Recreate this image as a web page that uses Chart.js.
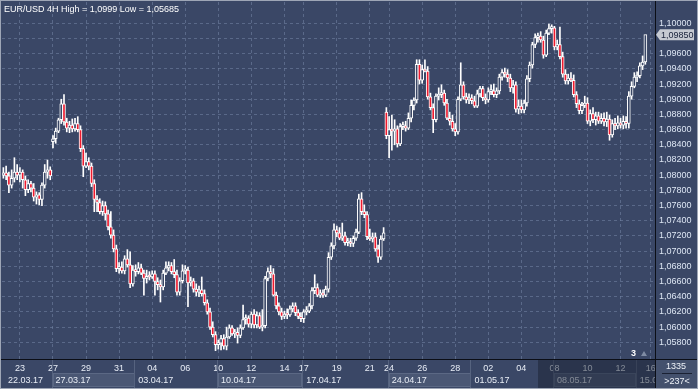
<!DOCTYPE html>
<html><head><meta charset="utf-8">
<script src="https://cdn.jsdelivr.net/npm/chart.js@4.4.1/dist/chart.umd.min.js"></script>
<style>html,body{margin:0;padding:0;background:#3a4766;overflow:hidden}canvas{display:block}</style>
</head><body>
<canvas id="c" width="698" height="389"></canvas>
<script>
const title = 'EUR/USD 4H High = 1,0999 Low = 1,05685';

const opens = [
1.0800,1.0803,1.0799,1.0787,1.0796,1.0804,1.0800,1.0804,1.0794,1.0781,1.0789,1.0783,1.0771,1.0774,1.0768,1.0787,1.0804,1.0807,
1.0844,1.0848,1.0858,1.0873,1.0894,1.0870,1.0862,1.0866,1.0861,1.0868,1.0860,1.0835,1.0812,1.0818,1.0812,1.0789,1.0768,1.0764,1.0752,1.0760,1.0749,1.0732,1.0721,1.0703,
1.0677,1.0679,1.0674,1.0690,1.0682,1.0657,1.0675,1.0673,1.0678,1.0671,1.0664,1.0667,1.0666,1.0670,1.0660,1.0656,1.0653,1.0671,1.0678,1.0681,1.0673,1.0669,1.0646,1.0661,1.0674,1.0675,1.0658,1.0661,1.0650,1.0646,1.0649,1.0644,1.0632,1.0620,1.0600,1.0590,
1.0577,1.0579,1.0585,1.0575,1.0587,1.0599,1.0591,1.0593,1.0589,1.0599,1.0610,1.0612,1.0604,1.0617,1.0603,1.0615,1.0600,1.0602,1.0664,1.0673,1.0670,1.0642,1.0628,1.0620,1.0614,1.0617,1.0616,1.0624,1.0628,1.0619,1.0614,1.0611,1.0620,1.0621,1.0628,1.0648,1.0652,1.0642,1.0645,1.0642,
1.0650,1.0692,1.0707,1.0728,1.0724,1.0717,1.0720,1.0711,1.0712,1.0710,1.0717,1.0725,1.0769,1.0752,1.0748,1.0719,1.0716,1.0719,1.0703,1.0692,1.0716,
1.0883,1.0852,1.0860,1.0858,1.0861,1.0841,1.0864,1.0865,1.0862,1.0875,1.0892,1.0899,1.0946,1.0925,1.0939,1.0937,1.0903,1.0889,1.0873,1.0904,1.0906,1.0908,1.0895,1.0875,1.0871,1.0861,1.0857,1.0900,1.0919,1.0903,1.0899,1.0902,1.0898,1.0891,1.0907,1.0914,1.0902,1.0899,
1.0910,1.0911,1.0906,1.0911,1.0929,1.0935,1.0933,1.0928,1.0915,1.0919,1.0887,1.0891,1.0886,1.0895,1.0927,1.0945,1.0972,1.0981,1.0983,1.0978,1.0958,1.0987,1.0993,1.0994,1.0969,1.0972,1.0956,1.0933,1.0924,1.0928,1.0925,1.0906,1.0894,1.0885,1.0892,1.0895,1.0871,1.0881,1.0873,1.0878,1.0871,1.0875,1.0870,1.0874,1.0853,1.0868,1.0865,1.0869,1.0866,1.0871,1.0868,1.0904,1.0917,1.0929,1.0931,1.0944,1.0949
];
const highs = [
1.0810,1.0812,1.0804,1.0807,1.0823,1.0814,1.0810,1.0807,1.0799,1.0794,1.0792,1.0789,1.0778,1.0777,1.0790,1.0814,1.0820,1.0811,
1.0852,1.0862,1.0875,1.0900,1.0906,1.0875,1.0871,1.0874,1.0875,1.0877,1.0865,1.0839,1.0829,1.0823,1.0816,1.0794,1.0773,1.0769,1.0766,1.0765,1.0754,1.0752,1.0728,1.0708,
1.0685,1.0686,1.0694,1.0702,1.0699,1.0681,1.0682,1.0685,1.0683,1.0675,1.0675,1.0673,1.0674,1.0674,1.0665,1.0662,1.0675,1.0686,1.0686,1.0685,1.0689,1.0675,1.0665,1.0682,1.0681,1.0679,1.0666,1.0664,1.0657,1.0654,1.0666,1.0649,1.0636,1.0625,1.0607,1.0594,
1.0583,1.0589,1.0590,1.0600,1.0603,1.0602,1.0597,1.0599,1.0603,1.0629,1.0616,1.0615,1.0620,1.0623,1.0620,1.0619,1.0623,1.0667,1.0678,1.0681,1.0677,1.0646,1.0632,1.0625,1.0621,1.0624,1.0628,1.0632,1.0632,1.0623,1.0619,1.0623,1.0627,1.0631,1.0652,1.0669,1.0657,1.0649,1.0649,1.0654,
1.0698,1.0711,1.0736,1.0733,1.0731,1.0737,1.0725,1.0717,1.0717,1.0720,1.0729,1.0775,1.0777,1.0761,1.0752,1.0729,1.0724,1.0724,1.0708,1.0720,1.0731,
1.0889,1.0877,1.0879,1.0873,1.0865,1.0868,1.0870,1.0871,1.0882,1.0899,1.0902,1.0952,1.0952,1.0945,1.0952,1.0943,1.0908,1.0894,1.0907,1.0915,1.0919,1.0912,1.0900,1.0883,1.0879,1.0868,1.0903,1.0948,1.0923,1.0908,1.0907,1.0906,1.0904,1.0912,1.0917,1.0917,1.0907,1.0915,
1.0919,1.0920,1.0915,1.0933,1.0939,1.0941,1.0939,1.0933,1.0925,1.0923,1.0899,1.0899,1.0899,1.0931,1.0949,1.0975,1.0986,1.0987,1.0989,1.0983,1.0991,1.0999,1.0998,1.0996,1.0978,1.0995,1.0962,1.0939,1.0933,1.0935,1.0932,1.0910,1.0899,1.0896,1.0904,1.0902,1.0886,1.0889,1.0883,1.0883,1.0881,1.0882,1.0883,1.0879,1.0873,1.0875,1.0878,1.0875,1.0878,1.0877,1.0910,1.0923,1.0935,1.0936,1.0948,1.0957,1.0983
];
const lows = [
1.0796,1.0794,1.0777,1.0783,1.0791,1.0794,1.0791,1.0783,1.0773,1.0777,1.0778,1.0766,1.0762,1.0761,1.0760,1.0783,1.0796,1.0794,
1.0836,1.0842,1.0856,1.0868,1.0866,1.0857,1.0856,1.0857,1.0858,1.0857,1.0831,1.0798,1.0810,1.0807,1.0785,1.0752,1.0752,1.0749,1.0747,1.0741,1.0728,1.0717,1.0699,1.0673,
1.0671,1.0671,1.0670,1.0679,1.0652,1.0654,1.0667,1.0670,1.0669,1.0642,1.0658,1.0662,1.0664,1.0642,1.0649,1.0633,1.0649,1.0669,1.0674,1.0670,1.0665,1.0642,1.0642,1.0658,1.0670,1.0627,1.0654,1.0646,1.0641,1.0640,1.0641,1.0629,1.0617,1.0597,1.0587,1.0569,
1.0571,1.0570,1.0571,1.0570,1.0585,1.0589,1.0586,1.0579,1.0586,1.0597,1.0604,1.0600,1.0599,1.0599,1.0599,1.0598,1.0595,1.0599,1.0661,1.0665,1.0641,1.0624,1.0616,1.0610,1.0611,1.0611,1.0614,1.0620,1.0615,1.0611,1.0607,1.0606,1.0616,1.0619,1.0624,1.0644,1.0640,1.0639,1.0639,1.0640,
1.0646,1.0689,1.0703,1.0719,1.0715,1.0714,1.0708,1.0707,1.0706,1.0706,1.0714,1.0723,1.0748,1.0744,1.0715,1.0714,1.0712,1.0700,1.0685,1.0689,1.0714,
1.0848,1.0823,1.0833,1.0840,1.0837,1.0839,1.0860,1.0858,1.0860,1.0870,1.0886,1.0895,1.0920,1.0921,1.0936,1.0900,1.0886,1.0856,1.0870,1.0899,1.0902,1.0892,1.0873,1.0866,1.0858,1.0852,1.0854,1.0898,1.0900,1.0895,1.0894,1.0894,1.0889,1.0889,1.0903,1.0898,1.0894,1.0896,
1.0906,1.0903,1.0902,1.0907,1.0925,1.0929,1.0923,1.0910,1.0908,1.0883,1.0881,1.0882,1.0882,1.0891,1.0923,1.0941,1.0968,1.0975,1.0975,1.0954,1.0956,1.0985,1.0987,1.0965,1.0965,1.0953,1.0929,1.0920,1.0920,1.0923,1.0903,1.0889,1.0881,1.0881,1.0889,1.0868,1.0865,1.0869,1.0866,1.0868,1.0868,1.0865,1.0864,1.0846,1.0850,1.0860,1.0861,1.0862,1.0861,1.0862,1.0862,1.0900,1.0915,1.0923,1.0928,1.0939,1.0946
];
const closes = [
1.0803,1.0799,1.0787,1.0796,1.0804,1.0800,1.0804,1.0794,1.0781,1.0789,1.0783,1.0771,1.0774,1.0768,1.0787,1.0804,1.0807,1.0799,
1.0848,1.0858,1.0873,1.0894,1.0870,1.0862,1.0866,1.0861,1.0868,1.0860,1.0835,1.0812,1.0818,1.0812,1.0789,1.0768,1.0764,1.0752,1.0760,1.0749,1.0732,1.0721,1.0703,1.0677,
1.0679,1.0674,1.0690,1.0682,1.0657,1.0675,1.0673,1.0678,1.0671,1.0664,1.0667,1.0666,1.0670,1.0660,1.0656,1.0653,1.0671,1.0678,1.0681,1.0673,1.0669,1.0646,1.0661,1.0674,1.0675,1.0658,1.0661,1.0650,1.0646,1.0649,1.0644,1.0632,1.0620,1.0600,1.0590,1.0577,
1.0579,1.0585,1.0575,1.0587,1.0599,1.0591,1.0593,1.0589,1.0599,1.0610,1.0612,1.0604,1.0617,1.0603,1.0615,1.0600,1.0602,1.0664,1.0673,1.0670,1.0642,1.0628,1.0620,1.0614,1.0617,1.0616,1.0624,1.0628,1.0619,1.0614,1.0611,1.0620,1.0621,1.0628,1.0648,1.0652,1.0642,1.0645,1.0642,1.0650,
1.0692,1.0707,1.0728,1.0724,1.0717,1.0720,1.0711,1.0712,1.0710,1.0717,1.0725,1.0769,1.0752,1.0748,1.0719,1.0716,1.0719,1.0703,1.0692,1.0716,1.0724,
1.0852,1.0860,1.0858,1.0861,1.0841,1.0864,1.0865,1.0862,1.0875,1.0892,1.0899,1.0946,1.0925,1.0939,1.0937,1.0903,1.0889,1.0873,1.0904,1.0906,1.0908,1.0895,1.0875,1.0871,1.0861,1.0857,1.0900,1.0919,1.0903,1.0899,1.0902,1.0898,1.0891,1.0907,1.0914,1.0902,1.0899,1.0910,
1.0911,1.0906,1.0911,1.0929,1.0935,1.0933,1.0928,1.0915,1.0919,1.0887,1.0891,1.0886,1.0895,1.0927,1.0945,1.0972,1.0981,1.0983,1.0978,1.0958,1.0987,1.0993,1.0994,1.0969,1.0972,1.0956,1.0933,1.0924,1.0928,1.0925,1.0906,1.0894,1.0885,1.0892,1.0895,1.0871,1.0881,1.0873,1.0878,1.0871,1.0875,1.0870,1.0874,1.0853,1.0868,1.0865,1.0869,1.0866,1.0871,1.0868,1.0904,1.0917,1.0929,1.0931,1.0944,1.0949,1.0985
];

const dayLabels = ['23','27','29','31','04','06','10','12','14','17','19','21','24','26','28','02','04','08','10','12','16'];
const dayIndex  = [6,18,30,42,54,66,78,90,102,109,121,133,140,152,164,176,188,200,212,224,235];
const weekLabels = ['22.03.17','27.03.17','03.04.17','10.04.17','17.04.17','24.04.17','01.05.17','08.05.17','15.05.17'];
const weekIndex  = [0,18,48,78,109,140,170,200,230];
const yTicks = [1.058,1.060,1.062,1.064,1.066,1.068,1.070,1.072,1.074,1.076,1.078,1.080,1.082,1.084,1.086,1.088,1.090,1.092,1.094,1.096,1.098,1.100];
const barCount = 237;
const barsTotalText = '1335';
const barsShownText = '>237<';
const markerCount = '3';

const BG = '#3a4766';
const FONT = "'Liberation Sans', Arial, sans-serif";
const lastPrice = closes[closes.length - 1];
const fmt = v => v.toFixed(5).replace('.', ',');

Chart.defaults.font.family = FONT;

const chrome = {
  id: 'chrome',
  beforeDraw(chart) {
    const c = chart.ctx, xs = chart.scales.x, a = chart.chartArea;
    c.save();
    c.fillStyle = BG; c.fillRect(0, 0, chart.width, chart.height);
    for (let k = 0; k < weekIndex.length; k++) {
      const x0 = Math.max(a.left, xs.getPixelForValue(weekIndex[k] - 0.5));
      const x1 = k + 1 < weekIndex.length ? Math.min(a.right, xs.getPixelForValue(weekIndex[k + 1] - 0.5)) : a.right;
      if (k % 2 === 1) {
        c.fillStyle = '#4a5774';
        c.fillRect(x0 + 1, 373, x1 - x0 - 1, 14);
        c.strokeStyle = '#5b6884'; c.lineWidth = 1;
        c.strokeRect(Math.round(x0) + 1.5, 373.5, Math.round(x1 - x0) - 2, 13);
      }
    }
    c.restore();
  },
  afterDraw(chart) {
    const c = chart.ctx, xs = chart.scales.x, ys = chart.scales.y, a = chart.chartArea;
    c.save();
    c.font = '9px ' + FONT; c.textBaseline = 'middle'; c.textAlign = 'left';
    for (let k = 0; k < weekIndex.length; k++) {
      const x0 = Math.max(a.left, xs.getPixelForValue(weekIndex[k] - 0.5));
      if (k > 0) {
        c.strokeStyle = '#56637f'; c.lineWidth = 1;
        c.beginPath(); c.moveTo(Math.round(x0) + 0.5, 360); c.lineTo(Math.round(x0) + 0.5, 389); c.stroke();
      }
      c.fillStyle = '#e8edf6';
      c.fillText(weekLabels[k], x0 + (k === 0 ? 6 : 4), 380.5);
    }
    c.fillStyle = 'rgba(26,33,50,0.5)';
    c.fillRect(538, 360, a.right - 538, 29);
    c.strokeStyle = '#0b0e16'; c.lineWidth = 1;
    c.beginPath(); c.moveTo(0, 359.5); c.lineTo(chart.width, 359.5); c.stroke();
    c.beginPath(); c.moveTo(655.5, 0); c.lineTo(655.5, chart.height); c.stroke();
    c.fillStyle = '#44516d'; c.fillRect(656, 360, 42, 29);
    c.fillStyle = '#eef2f8'; c.textAlign = 'center';
    c.fillText(barsTotalText, 676, 366.5);
    c.fillText(barsShownText, 677, 381.5);
    c.strokeStyle = '#1a2133'; c.beginPath(); c.moveTo(662, 373.5); c.lineTo(692, 373.5); c.stroke();
    c.fillStyle = '#ffffff'; c.font = 'bold 9px ' + FONT; c.textAlign = 'left';
    c.fillText(markerCount, 631, 354);
    c.fillStyle = '#7f8ba3';
    c.beginPath(); c.moveTo(641, 356); c.lineTo(644, 351); c.lineTo(647, 356); c.closePath(); c.fill();
    const py = ys.getPixelForValue(lastPrice);
    c.fillStyle = '#c6cad2';
    c.beginPath(); c.moveTo(656, py); c.lineTo(660, py - 5.5); c.lineTo(694, py - 5.5); c.lineTo(694, py + 5.5); c.lineTo(660, py + 5.5); c.closePath(); c.fill();
    c.fillStyle = '#18213a'; c.font = '9px ' + FONT; c.textAlign = 'left';
    c.fillText(fmt(lastPrice), 661, py + 0.5);
    c.fillStyle = '#ffffff'; c.textBaseline = 'alphabetic';
    c.fillText(title, 4, 11.5);
    c.strokeStyle = '#9ea6b6'; c.strokeRect(0.5, 0.5, chart.width - 1, chart.height - 1);
    c.restore();
  }
};

new Chart(document.getElementById('c'), {
  type: 'bar',
  data: {
    datasets: [
      {
        label: 'range',
        data: lows.map((l, i) => ({ x: i, y: [l, highs[i]] })),
        backgroundColor: '#ffffff',
        borderWidth: 0,
        barThickness: 1,
        grouped: false,
        order: 2
      },
      {
        label: 'body',
        data: opens.map((o, i) => ({ x: i, y: [o, closes[i]] })),
        backgroundColor: ctx => (closes[ctx.dataIndex] < opens[ctx.dataIndex] ? '#ee1b2f' : BG),
        borderColor: '#ffffff',
        borderWidth: 1,
        borderSkipped: false,
        barThickness: 3,
        minBarLength: 2,
        grouped: false,
        order: 1
      }
    ]
  },
  options: {
    responsive: false,
    animation: false,
    devicePixelRatio: 1,
    layout: { padding: { top: 2, left: 2, right: 0, bottom: 0 } },
    plugins: { legend: { display: false }, tooltip: { enabled: false } },
    scales: {
      x: {
        type: 'linear',
        min: -0.5,
        max: barCount - 0.5,
        offset: false,
        afterBuildTicks: s => { s.ticks = dayIndex.map(v => ({ value: v })); },
        afterFit: s => { s.height = 30; s.paddingLeft = 0; s.paddingRight = 0; },
        ticks: {
          autoSkip: false, maxRotation: 0, padding: 4,
          color: '#e8edf6', font: { size: 9 },
          callback: v => { const k = dayIndex.indexOf(v); return k >= 0 ? dayLabels[k] : ''; }
        },
        grid: { offset: false, color: 'rgba(112,128,160,0.6)', drawTicks: false, lineWidth: 1 },
        border: { display: false, dash: [3, 3] }
      },
      y: {
        position: 'right',
        min: 1.0558,
        max: 1.1028,
        afterBuildTicks: s => { s.ticks = yTicks.map(v => ({ value: v })); },
        afterFit: s => { s.width = 43; s.paddingTop = 0; s.paddingBottom = 0; },
        ticks: {
          padding: 4, color: '#dde6f3', font: { size: 9 },
          callback: v => (Math.abs(v - lastPrice) < 0.0009 ? '' : fmt(v))
        },
        grid: { color: 'rgba(112,128,160,0.6)', drawTicks: false, lineWidth: 1 },
        border: { display: false, dash: [3, 3] }
      }
    }
  },
  plugins: [chrome]
});
</script>
</body></html>
